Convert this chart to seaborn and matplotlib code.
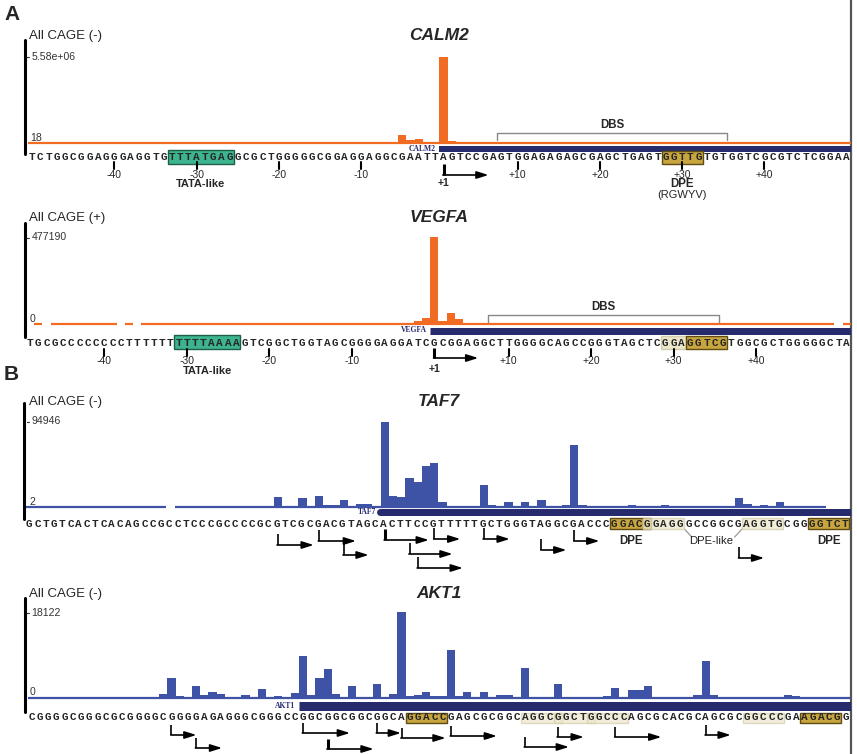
import matplotlib
matplotlib.use("Agg")
import numpy as np
import pandas as pd
import seaborn as sns
import matplotlib.pyplot as plt
from matplotlib.patches import Rectangle

# ---------------- data ----------------
calm2_seq = ("TCTGGCGGAGGGAGGTG" "TTTATGAG" "GCGCTGGGGGCGGAGGAGGCGAATT"
             "AGTCCGAGTGGAGAGAGCGAGCTGAGT" "GGTTG" "TGTGGTCGCGTCTCGGAA")
calm2_bar_pos = [45, 46, 47, 48, 49, 50, 51]
calm2_bar_val = [500000, 175000, 260000, 45000, 65000, 5580000, 130000]
calm2_ymax = 5.58e6
calm2_scale = ["5.58e+06", "18"]
calm2_covered = [(0, 99)]
calm2_tss = 50
calm2_ticks = [-40, -30, -20, -10, 10, 20, 30, 40]

vegfa_seq = ("TGCGCCCCCCCC" "TTTTTT" "TTTTAAAA" "GTCGGCTGGTAGCGGGGAGGAT"
             "CGCGGAGGCTTGGGGCAGCCGGGTAGCTCGGAGGTCGTGGCGCTGGGGGCTA")
vegfa_bar_pos = [47, 48, 49, 50, 51, 52]
vegfa_bar_val = [14000, 33000, 477190, 17000, 61000, 28000]
vegfa_ymax = 477190
vegfa_scale = ["477190", "0"]
vegfa_covered = [(1, 1), (3, 10), (12, 12), (14, 97), (99, 99)]
vegfa_tss = 49
vegfa_ticks = [-40, -30, -20, -10, 10, 20, 30, 40]

taf7_seq = ("GCTGTCACTCACAGCCGCCTCCCGCCCCGCGTCGCGACGTAGCACTTCC"
            "GTTTTTGCTGGGTAGGCGACCC" "GGACG" "GAGGGCCGGCG" "AGGTG" "CGG" "GGTCT")
taf7_bar_pos = [30, 33, 35, 36, 37, 38, 40, 41, 43, 44, 45, 46, 47, 48, 49, 50,
                55, 56, 58, 60, 62, 65, 66, 67, 73, 77, 86, 87, 89, 91]
taf7_bar_val = [11000, 10000, 12000, 2000, 2000, 8000, 3500, 3500, 94946, 12500,
                11000, 32000, 28000, 46000, 49000, 5500, 24500, 2200, 5500, 5500,
                8000, 2200, 69000, 2200, 2200, 2200, 10000, 3300, 2200, 5500]
taf7_ymax = 94946
taf7_scale = ["94946", "2"]
taf7_covered = [(0, 16), (18, 96)]
taf7_tss = [30, 35, 38, 43, 46, 47, 49, 55, 62, 66, 86]

akt1_seq = ("CGGGGCGGGCGCGGGGCGGGGAGAGGGCGGGCCGGCGGCGGCGGCA" "GGACC" "GAGCGCGGC"
            "AGGCGGCTGGCCC" "AGCGCACGCAGCGC" "GGCCC" "GA" "AGACG" "G")
akt1_bar_pos = [6, 16, 17, 18, 19, 20, 21, 22, 23, 25, 26, 27, 28, 30, 31, 32, 33,
                34, 35, 36, 37, 39, 42, 44, 45, 46, 47, 48, 49, 50, 51, 52, 53, 54,
                55, 56, 57, 58, 60, 64, 65, 67, 68, 70, 71, 73, 74, 75, 76, 77, 78,
                79, 81, 82, 83, 87, 92, 93, 98]
akt1_bar_val = [210, 850, 4260, 430, 210, 2560, 640, 1280, 850, 210, 640, 210,
                1920, 430, 110, 1070, 8950, 640, 4260, 6180, 850, 2560, 2980, 850,
                18122, 430, 640, 1280, 430, 430, 10010, 430, 1280, 210, 1280, 210,
                640, 640, 6390, 2980, 210, 210, 210, 430, 2130, 1700, 1700, 2560,
                210, 210, 210, 210, 640, 7880, 640, 210, 640, 430, 210]
akt1_ymax = 18122
akt1_scale = ["18122", "0"]
akt1_covered = [(0, 99)]
akt1_tss = [17, 20, 33, 36, 42, 45, 51, 60, 64, 71, 82]

# ---------------- styling / layout ----------------
ORANGE = "#F26B22"
BLUE = "#3F53A6"
NAVY = "#262B6E"
TEAL = "#3DB48F"
GOLD = "#C8A53E"
PALE = "#ECE6CB"

W, H = 857, 754
L, R = 27, 851

sns.set_theme(style="white")
plt.rcParams["font.family"] = ["Liberation Sans", "DejaVu Sans"]

fig = plt.figure(figsize=(W / 100, H / 100), dpi=100)
axg = fig.add_axes([0, 0, 1, 1])
axg.set_xlim(0, W)
axg.set_ylim(H, 0)
axg.axis("off")


def make_axes(x0, sp, base_y, top_y):
    xl = ((L - x0) / sp, (R - x0) / sp)
    axb = fig.add_axes([L / W, 1 - base_y / H, (R - L) / W, (base_y - top_y) / H])
    axn = fig.add_axes([L / W, 0, (R - L) / W, 1])
    axn.set_xlim(xl)
    axn.set_ylim(H, 0)
    axn.axis("off")
    return axb, axn, xl


def draw_track(axb, xl, pos, val, ymax, covered, color, shift):
    df = pd.DataFrame({"pos": np.asarray(pos, float) + shift, "val": val})
    sns.barplot(data=df, x="pos", y="val", native_scale=True, width=1.0,
                color=color, saturation=1, errorbar=None, linewidth=0, ax=axb)
    for a, b in covered:
        axb.hlines(0, a - 0.5 + shift, b + 0.5 + shift, color=color, lw=1.6,
                   clip_on=False)
    axb.set_xlim(xl)
    axb.set_ylim(0, ymax)
    axb.axis("off")


def draw_seq(axn, seq, y):
    for i, ch in enumerate(seq):
        axn.text(i, y, ch, ha="center", va="center", fontsize=7.9,
                 fontweight="bold", family="Liberation Mono", zorder=6)


def box(axn, i0, i1, y, h, fc, ec, alpha=1.0):
    axn.add_patch(Rectangle((i0 - 0.5, y - h / 2), i1 - i0 + 1, h, facecolor=fc,
                            edgecolor=ec, lw=1.0, alpha=alpha, zorder=3))


def tss_arrow(axn, x, y, length, sp, thick=False, vlen=11):
    axn.plot([x, x], [y - vlen, y], color="black", lw=2.2 if thick else 1.2,
             solid_capstyle="butt", zorder=5)
    axn.annotate("", xy=(x + length / sp, y), xytext=(x - 0.08, y),
                 arrowprops=dict(arrowstyle="-|>,head_length=0.7,head_width=0.22",
                                 color="black", lw=1.2, shrinkA=0, shrinkB=0,
                                 mutation_scale=10), zorder=5)


def scale_labels(labels, top_y, base_y):
    axg.plot([27, 29.5], [top_y, top_y], color="#333333", lw=0.8)
    axg.text(31.5, top_y, labels[0], fontsize=7.6, va="center", ha="left", color="#333333")
    axg.text(30, base_y - 5, labels[1], fontsize=7.6, va="center", ha="left", color="#333333")


def header(strand, gene, y):
    axg.text(29, y, "All CAGE (%s)" % strand, fontsize=9.5, va="center", ha="left")
    axg.text(439, y, gene, fontsize=12.5, va="center", ha="center",
             fontweight="bold", fontstyle="italic")


def gene_bar(axn, start, y, width_px, name, cap="butt"):
    axn.plot([start - 0.5, 110], [y, y], color=NAVY, lw=width_px * 0.72,
             solid_capstyle=cap, zorder=2)
    axn.text(start - 0.9, y, name, ha="right", va="center", fontsize=5.5,
             fontweight="bold", family="Liberation Serif", color=NAVY)


def idx_of(tss, p):
    return tss + p if p < 0 else tss + p - 1


def pos_ticks(axn, tss, ticks, y0, y1, ylab):
    for p in ticks:
        i = idx_of(tss, p)
        axn.plot([i, i], [y0, y1], color="black", lw=1.5, zorder=5)
        axn.text(i, ylab, ("%+d" % p), ha="center", va="center", fontsize=7.5)


def dbs(axn, tss, a, b, ytop, ybot, ylab):
    i0, i1 = idx_of(tss, a) - 0.5, idx_of(tss, b) + 0.5
    axn.plot([i0, i0, i1, i1], [ybot, ytop, ytop, ybot], color="#888888", lw=1.0)
    axn.text((i0 + i1) / 2, ylab, "DBS", ha="center", va="center", fontsize=8.3,
             fontweight="bold")


# ---------------- panel A : CALM2 ----------------
x0, sp = 32, 8.23
axb, axn, xl = make_axes(x0, sp, 143, 57)
draw_track(axb, xl, calm2_bar_pos, calm2_bar_val, calm2_ymax, calm2_covered, ORANGE, 0)
header("-", "CALM2", 36)
scale_labels(calm2_scale, 57, 143)
axg.plot([25, 25], [40, 154], color="black", lw=2.2)
gene_bar(axn, calm2_tss, 149, 6, "CALM2")
box(axn, 17, 24, 157, 14, TEAL, "#1E5E48")
box(axn, 77, 81, 157.5, 12.5, GOLD, "#5E4C12")
draw_seq(axn, calm2_seq, 157)
pos_ticks(axn, calm2_tss, calm2_ticks, 162, 169, 174.5)
dbs(axn, calm2_tss, 8, 35, 133, 140, 125.5)
tss_arrow(axn, calm2_tss, 175, 45, sp, thick=True)
axn.text(calm2_tss, 183.5, "+1", ha="center", va="center", fontsize=7.5, fontweight="bold")
axn.text(20.5, 184, "TATA-like", ha="center", va="center", fontsize=8, fontweight="bold")
axn.text(79, 184, "DPE", ha="center", va="center", fontsize=8.3, fontweight="bold")
axn.text(79, 194.5, "(RGWYV)", ha="center", va="center", fontsize=8)

# ---------------- panel A : VEGFA ----------------
x0, sp = 30, 8.25
axb, axn, xl = make_axes(x0, sp, 324, 237)
draw_track(axb, xl, vegfa_bar_pos, vegfa_bar_val, vegfa_ymax, vegfa_covered, ORANGE, 0)
header("+", "VEGFA", 218)
scale_labels(vegfa_scale, 237.5, 324)
axg.plot([25, 25], [223, 337], color="black", lw=2.2)
gene_bar(axn, vegfa_tss, 330.5, 7, "VEGFA")
box(axn, 18, 25, 342, 14, TEAL, "#1E5E48")
box(axn, 77, 79, 342.5, 12.5, PALE, "#D4CCA8")
box(axn, 80, 84, 342.5, 12.5, GOLD, "#5E4C12")
draw_seq(axn, vegfa_seq, 342.5)
pos_ticks(axn, vegfa_tss, vegfa_ticks, 349, 356, 361)
dbs(axn, vegfa_tss, 8, 35, 315, 322, 307)
tss_arrow(axn, vegfa_tss, 358, 44, sp, thick=True, vlen=10)
axn.text(vegfa_tss, 369, "+1", ha="center", va="center", fontsize=7.5, fontweight="bold")
axn.text(21.5, 371, "TATA-like", ha="center", va="center", fontsize=8, fontweight="bold")

# ---------------- panel B : TAF7 ----------------
x0, sp, sh = 29.3, 8.24, 0.15
axb, axn, xl = make_axes(x0, sp, 507, 422)
draw_track(axb, xl, taf7_bar_pos, taf7_bar_val, taf7_ymax, taf7_covered, BLUE, sh)
header("-", "TAF7", 401.5)
scale_labels(taf7_scale, 421.5, 507)
axg.plot([24, 24], [403, 519], color="black", lw=2.2)
gene_bar(axn, 43, 511.5, 7, "TAF7", cap="round")
box(axn, 71, 75, 523.5, 11, GOLD, "#5E4C12")
box(axn, 95, 99, 523.5, 11, GOLD, "#5E4C12")
box(axn, 75, 79, 523.5, 11, PALE, "#D4CCA8", alpha=0.75)
box(axn, 87, 91, 523.5, 11, PALE, "#D4CCA8", alpha=0.75)
draw_seq(axn, taf7_seq, 524)
taf7_arrow_y = [545, 541, 555, 540, 554, 568, 539, 539, 550, 541, 558]
taf7_arrow_len = [36, 37, 25, 44, 43, 45, 26, 26, 25, 25, 25]
for t, y, ln in zip(taf7_tss, taf7_arrow_y, taf7_arrow_len):
    tss_arrow(axn, t + sh, y, ln, sp, thick=(t == 43))
axn.text(73, 541.5, "DPE", ha="center", va="center", fontsize=8.3, fontweight="bold")
axn.text(97, 541.5, "DPE", ha="center", va="center", fontsize=8.3, fontweight="bold")
axn.text(82.7, 541.5, "DPE-like", ha="center", va="center", fontsize=8.2, color="#222222")
axn.plot([79.5, 80.4], [529, 537], color="#999999", lw=0.9)
axn.plot([86.5, 85.6], [529, 537], color="#999999", lw=0.9)

# ---------------- panel B : AKT1 ----------------
x0, sp = 31.7, 8.22
axb, axn, xl = make_axes(x0, sp, 698, 612)
draw_track(axb, xl, akt1_bar_pos, akt1_bar_val, akt1_ymax, akt1_covered, BLUE, 0)
header("-", "AKT1", 593.5)
scale_labels(akt1_scale, 612.5, 697)
axg.plot([25, 25], [598, 712], color="black", lw=2.2)
gene_bar(axn, 33, 705.5, 9, "AKT1")
box(axn, 46, 50, 718, 10.5, GOLD, "#5E4C12")
box(axn, 94, 98, 718, 10.5, GOLD, "#5E4C12")
for a, b in [(60, 64), (64, 68), (68, 72), (87, 91)]:
    box(axn, a, b, 718, 10.5, PALE, "#D4CCA8", alpha=0.7)
draw_seq(axn, akt1_seq, 717)
akt1_arrow_y = [735, 748, 733, 749, 733, 738, 736, 747, 737, 737, 735]
akt1_arrow_len = [25, 26, 47, 46, 24, 44, 46, 44, 26, 46, 25]
for t, y, ln in zip(akt1_tss, akt1_arrow_y, akt1_arrow_len):
    tss_arrow(axn, t, y, ln, sp, thick=(t == 36), vlen=10)

# ---------------- frame / panel letters ----------------
axg.text(4, 14, "A", fontsize=15, fontweight="bold", va="center", ha="left")
axg.text(4, 374, "B", fontsize=15, fontweight="bold", va="center", ha="left")
axg.plot([851.5, 851.5], [0, H], color="#555555", lw=1.6)

fig.savefig("out.png", dpi=100)
